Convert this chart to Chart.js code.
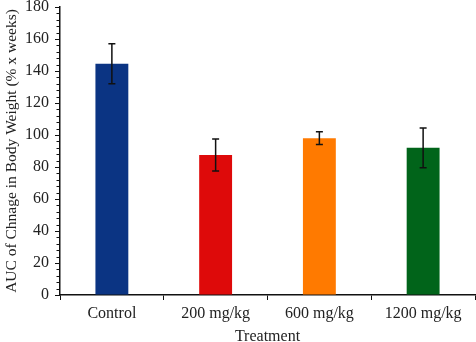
<!DOCTYPE html>
<html>
<head>
<meta charset="utf-8">
<script src="https://cdn.jsdelivr.net/npm/chart.js@4/dist/chart.umd.min.js"></script>
<style>
  html, body { margin: 0; padding: 0; background: #fff; }
  #wrap { width: 476px; height: 342px; position: relative; }
</style>
</head>
<body>
<div id="wrap"><canvas id="c" width="476" height="342"></canvas></div>
<script>
const categories = ["Control", "200 mg/kg", "600 mg/kg", "1200 mg/kg"];
const means = [144.5, 87.5, 98, 92];
const errors = [12.5, 10, 4, 12.4];
const barColors = ["#0b3483", "#de0a0a", "#ff7a00", "#01641a"];
const yTicks = [0, 20, 40, 60, 80, 100, 120, 140, 160, 180];
const minorStep = 4;

const FONT = "'Liberation Serif', 'DejaVu Serif', serif";

const errorBarPlugin = {
  id: 'errorBars',
  afterDatasetsDraw(chart) {
    const ctx = chart.ctx;
    const meta = chart.getDatasetMeta(0);
    const ys = chart.scales.y;
    ctx.save();
    ctx.strokeStyle = '#111';
    ctx.lineWidth = 1.5;
    meta.data.forEach((bar, i) => {
      const x = bar.x;
      const top = ys.getPixelForValue(means[i] + errors[i]);
      const bot = ys.getPixelForValue(means[i] - errors[i]);
      ctx.beginPath();
      ctx.moveTo(x, top); ctx.lineTo(x, bot);
      ctx.moveTo(x - 3.5, top); ctx.lineTo(x + 3.5, top);
      ctx.moveTo(x - 3.5, bot); ctx.lineTo(x + 3.5, bot);
      ctx.stroke();
    });
    ctx.restore();
  }
};

const minorTickPlugin = {
  id: 'minorTicks',
  afterDraw(chart) {
    const ctx = chart.ctx;
    const ys = chart.scales.y;
    const x0 = chart.chartArea.left;
    ctx.save();
    ctx.strokeStyle = '#111';
    ctx.lineWidth = 1;
    for (let v = 0; v <= 180; v += minorStep) {
      if (v % 20 === 0) continue;
      const y = Math.round(ys.getPixelForValue(v)) + 0.5;
      ctx.beginPath();
      ctx.moveTo(x0 - 3.5, y); ctx.lineTo(x0, y);
      ctx.stroke();
    }
    ctx.restore();
  }
};

new Chart(document.getElementById('c'), {
  type: 'bar',
  data: {
    labels: categories,
    datasets: [{
      data: means,
      backgroundColor: barColors,
      borderWidth: 0,
      categoryPercentage: 1,
      barPercentage: 0.317
    }]
  },
  options: {
    responsive: false,
    animation: false,
    devicePixelRatio: 1,
    layout: { padding: { top: 7, right: 1, left: 0, bottom: 0 } },
    plugins: { legend: { display: false }, tooltip: { enabled: false } },
    scales: {
      x: {
        grid: { drawOnChartArea: false, drawTicks: true, tickLength: 5, tickColor: '#111', offset: true },
        border: { color: '#111', width: 1.5 },
        ticks: { color: '#222', font: { family: FONT, size: 16 }, padding: 4 },
        title: { display: true, text: 'Treatment', color: '#222', font: { family: FONT, size: 16 }, padding: { top: 0, bottom: -4 } },
        afterFit(s) { s.height = 47; s.paddingLeft = 0; s.paddingRight = 0; }
      },
      y: {
        min: 0, max: 180,
        afterBuildTicks(s) { s.ticks = yTicks.map(v => ({ value: v })); },
        grid: { drawOnChartArea: false, drawTicks: true, tickLength: 5, tickColor: '#111' },
        border: { color: '#111', width: 1.5 },
        ticks: { color: '#222', font: { family: FONT, size: 16 }, padding: 6 },
        title: { display: true, text: 'AUC of Chnage in Body Weight (% x weeks)', color: '#222', font: { family: FONT, size: 15.5 }, padding: { top: 3, bottom: 2 } },
        afterFit(s) { s.width = 60; s.paddingTop = 0; s.paddingBottom = 0; }
      }
    }
  },
  plugins: [errorBarPlugin, minorTickPlugin]
});
</script>
</body>
</html>
